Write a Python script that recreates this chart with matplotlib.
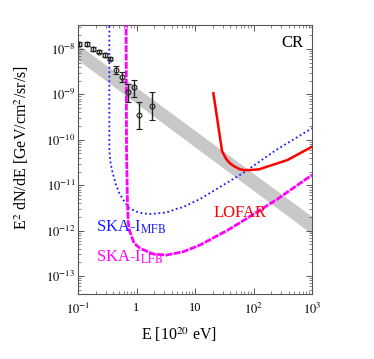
import matplotlib
matplotlib.use('Agg')
import matplotlib.pyplot as plt
import numpy as np

plt.rcParams['font.family'] = ['Liberation Serif', 'DejaVu Serif']
plt.rcParams['mathtext.fontset'] = 'stix'

# cosmic ray data points (E in 1e20 eV, flux in GeV/cm^2/sr/s)
cr_E = [0.105, 0.143, 0.178, 0.226, 0.290, 0.357, 0.447, 0.565, 0.707, 0.896, 1.12, 1.82]
cr_F = [1.29e-8, 1.29e-8, 1.0e-8, 8.8e-9, 7.38e-9, 6.11e-9, 3.44e-9, 2.45e-9, 1.15e-9, 1.43e-9, 3.52e-10, 5.55e-10]
cr_hi = [1.40e-8, 1.40e-8, 1.08e-8, 9.5e-9, 8.0e-9, 6.6e-9, 4.23e-9, 3.16e-9, 1.69e-9, 2.07e-9, 6.9e-10, 1.11e-9]
cr_lo = [1.19e-8, 1.19e-8, 0.92e-8, 8.1e-9, 6.8e-9, 5.6e-9, 2.81e-9, 1.85e-9, 6.9e-10, 8.9e-10, 1.70e-10, 2.73e-10]

# gray band (power-law fit)
band_E = [0.1, 1000]
band_hi = [1.26e-8, 2.04e-12]
band_lo = [5.73e-9, 8.41e-13]

# SKA-I MFB sensitivity
mfb_E = [0.343, 0.343, 0.360, 0.392, 0.447, 0.508, 0.611, 0.753, 1.01, 1.28, 1.70, 2.15,
         3.28, 4.73, 6.31, 12.2, 33.9, 65.3, 243, 1000]
mfb_F = [1e-7, 5.96e-11, 3.08e-11, 1.83e-11, 1.01e-11, 6.64e-12, 4.49e-12, 3.10e-12, 2.61e-12,
         2.40e-12, 2.32e-12, 2.38e-12, 2.51e-12, 2.99e-12, 3.31e-12, 4.97e-12, 1.10e-11,
         1.83e-11, 5.96e-11, 1.80e-10]

# SKA-I LFB sensitivity
lfb_E = [0.662, 0.675, 0.700, 0.720, 0.753, 0.828, 0.906, 1.15, 1.94, 3.28, 6.31, 12.2, 23.5,
         36.6, 65.3, 243, 1000]
lfb_F = [1e-7, 5.96e-11, 4.0e-12, 1.6e-12, 1.03e-12, 7.34e-13, 5.33e-13, 4.07e-13, 3.05e-13, 2.90e-13,
         3.43e-13, 4.82e-13, 7.60e-13, 1.03e-12, 1.63e-12, 4.72e-12, 1.68e-11]

# LOFAR sensitivity
lofar_E = [20.6, 29.0, 34.0, 39.6, 48.0, 58.7, 70.0, 87.1, 126, 168, 250, 381, 1000]
lofar_F = [1.06e-9, 5.6e-11, 3.8e-11, 3.03e-11, 2.55e-11, 2.24e-11, 2.15e-11, 2.16e-11,
           2.24e-11, 2.55e-11, 3.0e-11, 3.59e-11, 7.05e-11]

xticks = [0.1, 1, 10, 100, 1000]
xticklabels = ['$10^{-1}$', '1', '10', '$10^{2}$', '$10^{3}$']
yticks = [1e-8, 1e-9, 1e-10, 1e-11, 1e-12, 1e-13]
yticklabels = ['$10^{-8}$', '$10^{-9}$', '$10^{-10}$', '$10^{-11}$', '$10^{-12}$', '$10^{-13}$']

fig = plt.figure(figsize=(3.74, 3.59), dpi=100)
ax = fig.add_axes([0.2086, 0.1811, 0.6257, 0.7493])
ax.set_xscale('log')
ax.set_yscale('log')

ax.fill_between(band_E, band_lo, band_hi, color='#c8c8c8', lw=0, zorder=1)

ax.plot(mfb_E, mfb_F, color='#1a1aff', lw=1.3, ls=(0, (1, 1.5)), zorder=3)
ax.plot(lfb_E, lfb_F, color='#ff00ff', lw=2.0, ls=(0, (2.5, 0.5)), zorder=3)
ax.plot(lofar_E, lofar_F, color='#ff0000', lw=1.8, zorder=3)

cr_E = np.array(cr_E)
cr_F = np.array(cr_F)
yerr = [cr_F - np.array(cr_lo), np.array(cr_hi) - cr_F]
ax.errorbar(cr_E, cr_F, yerr=yerr, fmt='o', ms=3.5, mfc='none', mec='#222222',
            ecolor='#222222', elinewidth=1.0, capsize=2.2, capthick=0.9, mew=0.8, zorder=4)

ax.set_xlim(0.1, 1000)
ax.set_ylim(4.02e-14, 3.38e-8)
ax.set_xticks(xticks)
ax.set_xticklabels(xticklabels)
ax.set_yticks(yticks)
ax.set_yticklabels(yticklabels)

ax.tick_params(which='both', direction='in', top=True, right=True, colors='#555555',
               labelcolor='black', labelsize=9)
ax.tick_params(which='major', length=4.5, width=0.7)
ax.tick_params(which='minor', length=2.3, width=0.5)
ax.tick_params(axis='x', pad=6)
ax.tick_params(axis='y', pad=2)
for s in ax.spines.values():
    s.set_color('#555555')
    s.set_linewidth(0.8)

ax.set_xlabel('E [10$^{20}$ eV]', fontsize=11.5)
ax.xaxis.set_label_coords(0.43, -0.115)
ax.set_ylabel('E$^2$ dN/dE [GeV/cm$^2$/sr/s]', fontsize=11.5)
ax.yaxis.set_label_coords(-0.2, 0.543)

ax.text(0.203, 9.5e-13, 'SKA-I$_{\\rm MFB}$', color='#1a1aff', fontsize=12, va='baseline')
ax.text(0.203, 2.07e-13, 'SKA-I$_{\\rm LFB}$', color='#ff00ff', fontsize=12, va='baseline')
ax.text(20.5, 2.02e-12, 'LOFAR', color='#ff0000', fontsize=12, va='baseline')
ax.text(0.963, 0.919, 'CR', transform=ax.transAxes, fontsize=12, ha='right', va='baseline')

plt.savefig('out.png', dpi=100)
